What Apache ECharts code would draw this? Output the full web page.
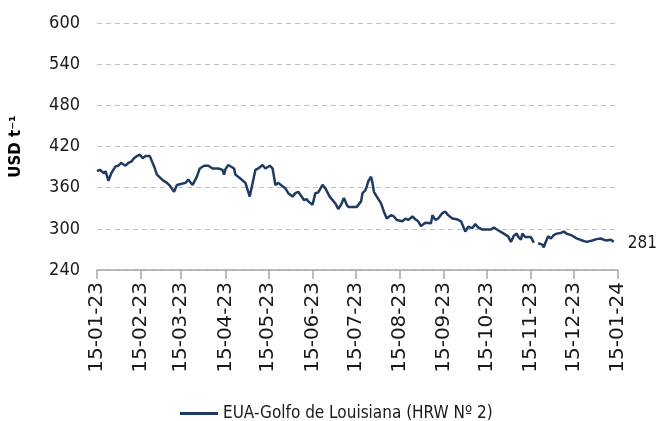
<!DOCTYPE html>
<html>
<head>
<meta charset="utf-8">
<script src="https://cdn.jsdelivr.net/npm/echarts@6/dist/echarts.min.js"></script>
<style>
  html, body { margin: 0; padding: 0; background: #fff; }
  #chart { width: 658px; height: 421px; }
</style>
</head>
<body>
<div id="chart"></div>
<script>
// days counted from 15-01-23
var dayOffsets = [0, 2, 5, 6, 8, 10, 13, 15, 17, 20,
  22, 24, 26, 28, 30, 32, 34, 37, 40, 42,
  46, 49, 51, 54, 56, 58, 62, 64, 65, 67,
  70, 72, 75, 78, 81, 85, 88, 89, 90, 92,
  93, 96, 97, 100, 104, 107, 111, 113, 116, 118,
  121, 123, 125, 127, 128, 130, 132, 134, 137, 139,
  141, 142, 145, 147, 148, 151, 153, 155, 156, 158,
  160, 163, 167, 169, 171, 173, 175, 176, 180, 182,
  185, 186, 188, 189, 190, 192, 193, 194, 196, 199,
  201, 203, 206, 208, 210, 214, 216, 218, 221, 223,
  225, 227, 230, 234, 235, 237, 239, 242, 244, 246,
  249, 252, 255, 258, 260, 263, 265, 267, 270, 276,
  278, 281, 285, 288, 290, 292, 294, 295, 297, 298,
  300, 304, 306, 307, 309, 312, 313, 314, 316, 318,
  320, 322, 325, 327, 329, 333, 336, 340, 343, 347,
  350, 353, 355, 357, 360, 362]

var prices = [384, 386, 381, 384, 370, 381, 391, 392, 396, 392,
  396, 398, 403, 406, 408, 403, 406, 406, 391, 379,
  371, 367, 363, 354, 364, 365, 367, 372, 369, 364,
  376, 388, 392, 392, 388, 388, 386, 379, 387, 393,
  393, 388, 379, 374, 367, 347, 386, 388, 393, 388,
  392, 388, 364, 367, 369, 362, 359, 352, 347, 352,
  354, 352, 342, 343, 340, 335, 352, 353, 352, 364,
  359, 347, 337, 329, 335, 345, 335, 332, 332, 332,
  340, 352, 356, 362, 369, 376, 367, 354, 347, 337,
  325, 315, 320, 318, 313, 311, 315, 313, 318, 314,
  311, 304, 309, 308, 320, 313, 315, 323, 325, 320,
  315, 314, 311, 296, 303, 301, 307, 302, 299, 299,
  302, 298, 293, 289, 281, 290, 293, 289, 284, 293,
  288, 288, 280, null, 279, 277, 273, 279, 289, 286,
  291, 293, 294, 296, 293, 290, 286, 283, 281, 283,
  285, 286, 284, 283, 284, 281]

var seriesName = 'EUA-Golfo de Louisiana (HRW Nº 2)'
var yTicks = [240, 300, 360, 420, 480, 540, 600]
// the 15th of each month, as days from 15-01-23
var tickDays = [0, 31, 59, 90, 120, 151, 181, 212, 243, 273, 304, 334, 365]
var tickLabels = ['15-01-23', '15-02-23', '15-03-23', '15-04-23', '15-05-23', '15-06-23',
  '15-07-23', '15-08-23', '15-09-23', '15-10-23', '15-11-23', '15-12-23', '15-01-24']

var narrow = "'DejaVu Sans Condensed', 'Liberation Sans', sans-serif"

var seriesData = dayOffsets.map(function (d, i) {
  return [d, prices[i]]
})

var chart = echarts.init(document.getElementById('chart'))
chart.setOption({
  animation: false,
  grid: { left: 97, right: 40, top: 23, bottom: 151 },
  legend: {
    top: 400,
    left: 175,
    icon: 'rect',
    itemWidth: 38,
    itemHeight: 3,
    data: [seriesName],
    textStyle: { fontFamily: narrow, fontSize: 17, color: '#1a1a1a' }
  },
  xAxis: {
    type: 'value',
    min: tickDays[0],
    max: tickDays[tickDays.length - 1],
    splitLine: { show: false },
    axisLine: { lineStyle: { color: '#a6a6a6', width: 1.5 } },
    axisTick: { show: true, length: 9, customValues: tickDays, lineStyle: { color: '#a6a6a6', width: 1.5 } },
    axisLabel: {
      customValues: tickDays,
      rotate: 90,
      margin: 12,
      fontFamily: 'DejaVu Sans',
      fontSize: 20,
      color: '#1a1a1a',
      hideOverlap: false,
      formatter: function (v) {
        return tickLabels[tickDays.indexOf(v)]
      }
    }
  },
  yAxis: {
    type: 'value',
    min: yTicks[0],
    max: yTicks[yTicks.length - 1],
    interval: 60,
    name: 'USD t⁻¹',
    nameLocation: 'middle',
    nameGap: 73,
    nameTextStyle: { fontFamily: 'DejaVu Sans', fontWeight: 'bold', fontSize: 15, color: '#000', padding: [0, 0, 0, 0] },
    axisLine: { show: false },
    axisTick: { show: false },
    axisLabel: { margin: 17, fontFamily: narrow, fontSize: 18, color: '#1a1a1a' },
    splitLine: { lineStyle: { color: '#c0c0c0', width: 1, type: [5, 4] } }
  },
  series: [{
    name: seriesName,
    type: 'line',
    data: seriesData,
    symbol: 'none',
    connectNulls: false,
    lineStyle: { color: '#1f3b63', width: 2.5 },
    itemStyle: { color: '#1f3b63' },
    endLabel: {
      show: true,
      distance: 14,
      offset: [0, 2],
      fontFamily: narrow,
      fontSize: 17,
      color: '#1a1a1a',
      formatter: function (p) { return p.value[1] }
    }
  }]
})
</script>
</body>
</html>
